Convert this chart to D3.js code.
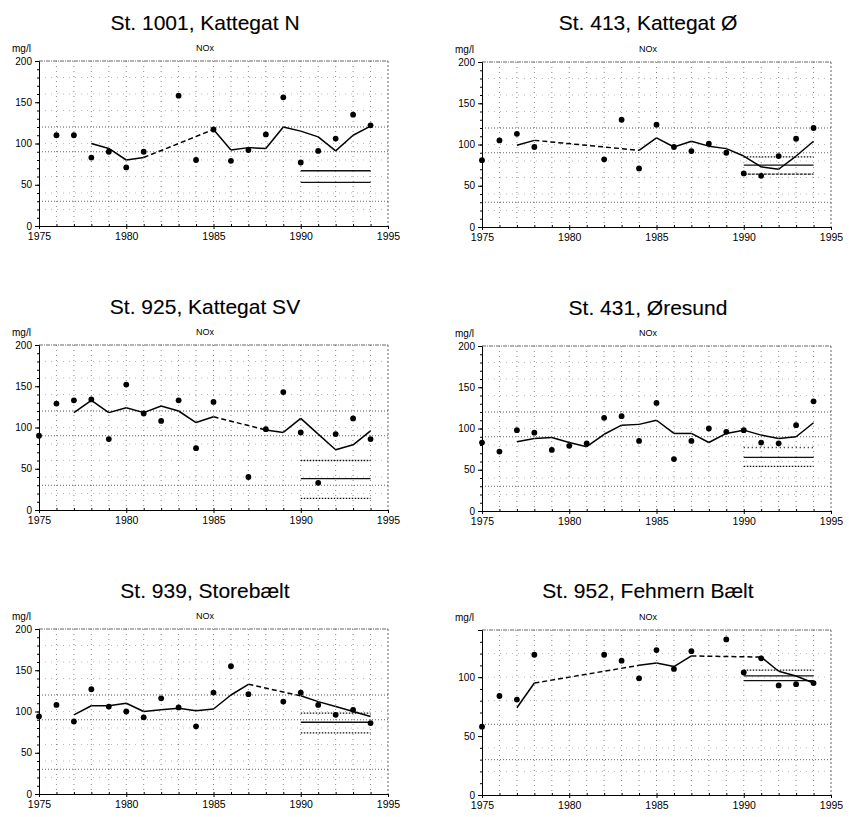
<!DOCTYPE html>
<html>
<head>
<meta charset="utf-8">
<script src="https://cdn.jsdelivr.net/npm/d3@7/dist/d3.min.js"></script>
<style>
  body { margin: 0; background: #fff; }
  svg { font-family: "Liberation Sans", Arial, sans-serif; }
</style>
</head>
<body>
<div id="vis"></div>
<script>
'use strict';

// titles of the six stations
var titles = ['St. 1001, Kattegat N', 'St. 413, Kattegat Ø', 'St. 925, Kattegat SV',
              'St. 431, Øresund', 'St. 939, Storebælt', 'St. 952, Fehmern Bælt'];

var xTicks = [1975, 1980, 1985, 1990, 1995];
var yTicks = [0, 50, 100, 150, 200];
var yTicks952 = [0, 50, 100];
var yMax = [200, 200, 200, 200, 200, 140];

// guide levels (dotted horizontals)
var guides = [30, 90, 120];
var guides952 = [30, 60];

// yearly measurements [year, mg/l]
var pts1001 = [[1976,110],[1977,110],[1978,83],[1979,90],[1980,71],[1981,90],[1983,158],[1984,80],
  [1985,117],[1986,79],[1987,92],[1988,111],[1989,156],[1990,77],[1991,91],[1992,106],[1993,135],[1994,122]];
var pts413 = [[1975,81],[1976,105],[1977,113],[1978,97],[1982,82],[1983,130],[1984,71],[1985,124],
  [1986,97],[1987,92],[1988,101],[1989,90],[1990,65],[1991,62],[1992,86],[1993,107],[1994,120]];
var pts925 = [[1975,90],[1976,129],[1977,133],[1978,134],[1979,86],[1980,152],[1981,117],[1982,108],
  [1983,133],[1984,75],[1985,131],[1987,40],[1988,98],[1989,143],[1990,94],[1991,33],[1992,92],[1993,111],[1994,86]];
var pts431 = [[1975,83],[1976,72],[1977,98],[1978,95],[1979,74],[1980,79],[1981,82],[1982,113],
  [1983,115],[1984,85],[1985,131],[1986,63],[1987,85],[1988,100],[1989,96],[1990,98],[1991,83],[1992,82],[1993,104],[1994,133]];
var pts939 = [[1975,94],[1976,108],[1977,88],[1978,127],[1979,106],[1980,100],[1981,93],[1982,116],
  [1983,105],[1984,82],[1985,123],[1986,155],[1987,121],[1989,112],[1990,123],[1991,108],[1992,96],[1993,102],[1994,86]];
var pts952 = [[1975,58],[1976,84],[1977,81],[1978,119],[1982,119],[1983,114],[1984,99],[1985,123],
  [1986,107],[1987,122],[1989,132],[1990,104],[1991,116],[1992,93],[1993,94],[1994,95]];

// running mean [year, mg/l]; gaps in years are bridged with a dashed segment
var mean1001 = [[1978,100],[1979,94],[1980,80],[1981,83],[1985,117],[1986,92],[1987,95],[1988,94],
  [1989,120],[1990,115],[1991,108],[1992,91],[1993,110],[1994,121]];
var mean413 = [[1977,99],[1978,105],[1984,93],[1985,108],[1986,97],[1987,104],[1988,98],[1989,95],
  [1990,86],[1991,73],[1992,70],[1993,86],[1994,104]];
var mean925 = [[1977,118],[1978,133],[1979,118],[1980,124],[1981,118],[1982,126],[1983,120],[1984,106],
  [1985,113],[1988,97],[1989,94],[1990,111],[1991,92],[1992,73],[1993,79],[1994,96]];
var mean431 = [[1977,84],[1978,88],[1979,89],[1980,83],[1981,78],[1982,93],[1983,104],[1984,105],
  [1985,110],[1986,94],[1987,94],[1988,83],[1989,94],[1990,98],[1991,92],[1992,88],[1993,90],[1994,107]];
var mean939 = [[1977,96],[1978,107],[1979,107],[1980,110],[1981,100],[1982,102],[1983,104],[1984,101],
  [1985,103],[1986,120],[1987,133],[1990,119],[1991,112],[1992,106],[1993,100],[1994,94]];
var mean952 = [[1977,74],[1978,95],[1984,110],[1985,112],[1986,109],[1987,118],[1991,117],
  [1992,105],[1993,101],[1994,95]];

// 1990-1994 levels: [upper, mean, lower]
var band1001 = [null, 67, 53];
var band413 = [85, 75, 64];
var band925 = [60, 38, 14];
var band431 = [77, 65, 54];
var band939 = [98, 87, 74];
var band952 = [106, 101, 97];
var bandYears = [1990, 1994];

var panels = [
  { pts: pts1001, mean: mean1001, band: band1001, ticks: yTicks, guides: guides, left: 39, top: 61, titleY: 30, bandDash: [null, null, null] },
  { pts: pts413, mean: mean413, band: band413, ticks: yTicks, guides: guides, left: 482, top: 62, titleY: 30, bandDash: ['1.5,1.5', null, '3,1'] },
  { pts: pts925, mean: mean925, band: band925, ticks: yTicks, guides: guides, left: 39, top: 345, titleY: 314, bandDash: ['1.5,1.5', null, '1.5,1.5'] },
  { pts: pts431, mean: mean431, band: band431, ticks: yTicks, guides: guides, left: 482, top: 346, titleY: 315, bandDash: ['1,3', null, '1.5,1.5'] },
  { pts: pts939, mean: mean939, band: band939, ticks: yTicks, guides: guides, left: 39, top: 629, titleY: 598, bandDash: ['1.5,1.5', null, '1.5,1.5'] },
  { pts: pts952, mean: mean952, band: band952, ticks: yTicks952, guides: guides952, left: 482, top: 630, titleY: 598, bandDash: ['1.5,1.5', null, null] }
];

var pw = 349, ph = 165;

var svg = d3.select('#vis').append('svg')
    .attr('width', 849)
    .attr('height', 817);

panels.forEach(function(p, i) {
    var g = svg.append('g').attr('transform', 'translate(' + p.left + ',' + p.top + ')');

    var x = d3.scaleLinear().domain([1975, 1995]).range([0, pw]);
    var y = d3.scaleLinear().domain([0, yMax[i]]).range([ph, 0]);

    // title + labels
    g.append('text')
        .attr('x', 166).attr('y', p.titleY - p.top)
        .attr('text-anchor', 'middle')
        .style('font-size', '21px')
        .style('stroke', '#000').style('stroke-width', 0.12)
        .text(titles[i]);
    g.append('text')
        .attr('x', -27).attr('y', -9)
        .style('font-size', '10px')
        .text('mg/l');
    g.append('text')
        .attr('x', 166).attr('y', -10)
        .attr('text-anchor', 'middle')
        .style('font-size', '9px')
        .text('NOx');

    // vertical dotted grid, one per year
    g.selectAll('.vgrid')
        .data(d3.range(1976, 1995))
        .enter().append('line')
        .attr('x1', function(d) { return x(d); })
        .attr('x2', function(d) { return x(d); })
        .attr('y1', 0).attr('y2', ph)
        .style('stroke', '#888')
        .style('stroke-width', 1)
        .style('stroke-dasharray', '1,4');

    // faint horizontal grid
    g.selectAll('.hgrid')
        .data(d3.range(20, yMax[i], 20))
        .enter().append('line')
        .attr('x1', 0).attr('x2', pw)
        .attr('y1', function(d) { return y(d); })
        .attr('y2', function(d) { return y(d); })
        .style('stroke', '#bbb')
        .style('stroke-width', 1)
        .style('stroke-dasharray', '1,5');

    // guide levels
    g.selectAll('.guide')
        .data(p.guides)
        .enter().append('line')
        .attr('x1', 0).attr('x2', pw)
        .attr('y1', function(d) { return y(d); })
        .attr('y2', function(d) { return y(d); })
        .style('stroke', '#666')
        .style('stroke-width', 1)
        .style('stroke-dasharray', '1,2');

    // top and right frame
    g.append('line').attr('x1', 0).attr('x2', pw).attr('y1', 0).attr('y2', 0)
        .style('stroke', '#666').style('stroke-dasharray', '4,1,1,1');
    g.append('line').attr('x1', pw).attr('x2', pw).attr('y1', 0).attr('y2', ph)
        .style('stroke', '#666').style('stroke-dasharray', '2,2');

    // axes
    var yAxis = d3.axisLeft(y).tickValues(p.ticks).tickSize(4).tickPadding(3);
    var ya = g.append('g').call(yAxis);
    ya.selectAll('text').style('font-size', '10px').style('fill', '#000');
    ya.select('.domain').style('stroke', '#000');

    var minorY = g.append('g').call(d3.axisLeft(y).tickValues(d3.range(10, yMax[i], 10)).tickSize(2).tickFormat(''));
    minorY.select('.domain').remove();

    var xAxis = d3.axisBottom(x).tickValues(xTicks).tickSize(3).tickPadding(4).tickFormat(d3.format('d'));
    var xa = g.append('g').attr('transform', 'translate(0,' + ph + ')').call(xAxis);
    xa.selectAll('text').style('font-size', '10.5px').style('fill', '#000');
    xa.select('.domain').style('stroke', '#000');

    var minorX = g.append('g').attr('transform', 'translate(0,' + ph + ')')
        .call(d3.axisTop(x).tickValues(d3.range(1976, 1995)).tickSize(2).tickFormat(''));
    minorX.select('.domain').remove();

    // 1990-94 levels
    p.band.forEach(function(v, k) {
        if (v === null) return;
        g.append('line')
            .attr('x1', x(bandYears[0])).attr('x2', x(bandYears[1]))
            .attr('y1', y(v)).attr('y2', y(v))
            .style('stroke', '#111')
            .style('stroke-width', 1.3)
            .style('stroke-dasharray', p.bandDash[k]);
    });

    // running mean: solid between consecutive years, dashed across gaps
    var line = d3.line().x(function(d) { return x(d[0]); }).y(function(d) { return y(d[1]); });
    for (var k = 1; k < p.mean.length; k++) {
        var a = p.mean[k - 1], b = p.mean[k];
        g.append('path')
            .attr('d', line([a, b]))
            .style('fill', 'none')
            .style('stroke', '#000')
            .style('stroke-width', 1.5)
            .style('stroke-dasharray', b[0] - a[0] > 1 ? '5,3' : null);
    }

    // measurements
    g.selectAll('.dot')
        .data(p.pts)
        .enter().append('circle')
        .attr('cx', function(d) { return x(d[0]); })
        .attr('cy', function(d) { return y(d[1]); })
        .attr('r', 2.9)
        .style('fill', '#000');
});
</script>
</body>
</html>
